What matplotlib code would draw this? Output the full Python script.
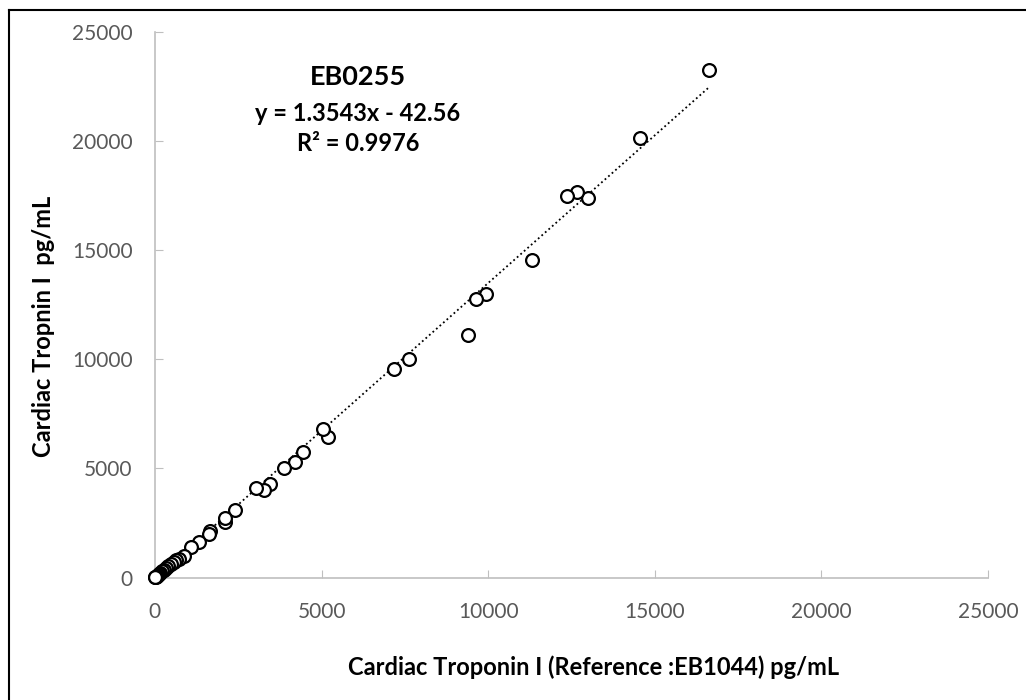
import numpy as np
import matplotlib.pyplot as plt

# reference (EB1044) vs EB0255 readings, pg/mL
ref_x = [16626, 14556, 12995, 12665, 12374, 11324, 9943, 9625, 9403, 7633,
         7164, 5202, 5042, 4451, 4211, 3871, 3451, 3271, 3041, 2401,
         2110, 2092, 1660, 1621, 1330, 1071, 861, 729, 640, 560,
         480, 400, 330, 270, 210, 160, 120, 85, 55, 30, 15, 5]
eb_y = [23263, 20155, 17413, 17656, 17491, 14566, 12980, 12751, 11120, 10023,
        9538, 6460, 6798, 5757, 5298, 5037, 4303, 4000, 4092, 3110,
        2546, 2743, 2147, 1982, 1628, 1385, 1000, 849, 780, 700,
        610, 520, 430, 360, 280, 210, 150, 100, 60, 30, 15, 5]

slope = 1.3543
intercept = -42.56
r2 = 0.9976
ticks = [0, 5000, 10000, 15000, 20000, 25000]

plt.rcParams['font.family'] = ['Lato', 'DejaVu Sans']

fig = plt.figure(figsize=(10.26, 7.0), dpi=100)
ax = fig.add_axes([0.151, 0.175, 0.812, 0.779])

# outer frame (only left/top edges visible in the crop)
fig.add_artist(plt.Line2D([9 / 1026, 9 / 1026], [0, 1 - 10 / 700],
                          transform=fig.transFigure, color='black', lw=1.5))
fig.add_artist(plt.Line2D([9 / 1026, 1], [1 - 10 / 700, 1 - 10 / 700],
                          transform=fig.transFigure, color='black', lw=1.5))

xs = np.array([min(ref_x), max(ref_x)])
ax.plot(xs, slope * xs + intercept, color='black', ls=(0, (1, 1.6)), lw=1.3, zorder=2)
ax.scatter(ref_x, eb_y, s=85, facecolor='white', edgecolor='black', linewidths=1.6,
           zorder=3, clip_on=False)

ax.set_xlim(0, 25000)
ax.set_ylim(0, 25000)
ax.set_xticks(ticks)
ax.set_yticks(ticks)
ax.tick_params(direction='in', length=6, color='#BFBFBF', labelcolor='#595959',
               labelsize=15, pad=16)
ax.tick_params(axis='x', pad=18)
for s in ['top', 'right']:
    ax.spines[s].set_visible(False)
for s in ['left', 'bottom']:
    ax.spines[s].set_color('#BFBFBF')
    ax.spines[s].set_linewidth(1.2)

ax.set_xlabel('Cardiac Troponin I (Reference :EB1044) pg/mL', fontsize=17,
              fontweight='bold')
ax.xaxis.set_label_coords(0.527, -0.142)
ax.set_ylabel('Cardiac Tropnin I  pg/mL', fontsize=17, fontweight='bold')
ax.yaxis.set_label_coords(-0.12, 0.461)

ax.text(0.244, 0.918, 'EB0255', transform=ax.transAxes, ha='center', va='center',
        fontsize=19.5, fontweight='bold')
ax.text(0.243, 0.851, 'y = %.4fx - %.2f' % (slope, -intercept), transform=ax.transAxes,
        ha='center', va='center', fontsize=17, fontweight='bold')
ax.text(0.244, 0.796, 'R² = %.4f' % r2, transform=ax.transAxes, ha='center',
        va='center', fontsize=17, fontweight='bold')

fig.savefig('out.png', dpi=100)
